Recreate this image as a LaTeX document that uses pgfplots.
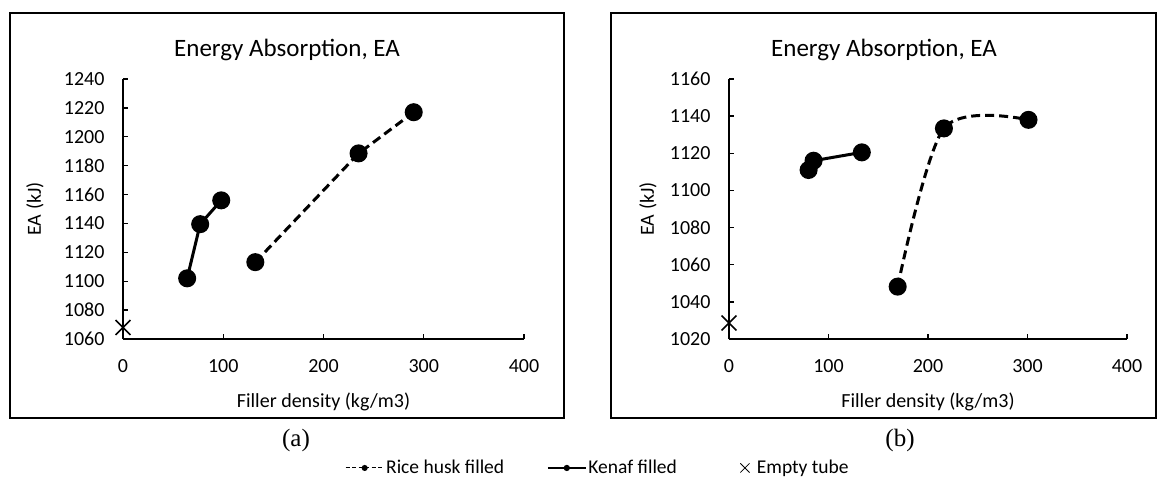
\documentclass[border=0pt]{standalone}
\usepackage{fontspec}
\setmainfont{Carlito}
\newfontfamily\capfont{Liberation Serif}
\usepackage{pgfplots}
\pgfplotsset{compat=1.18}

\pgfplotsset{
  eastyle/.style={
    scale only axis, clip=false,
    axis x line=bottom, axis y line=left,
    axis line style={-, line width=1.3pt},
    major tick length=5pt, tick align=inside,
    tick style={line width=1.3pt, black},
    xmin=0, xmax=400, xtick={0,100,200,300,400},
    ytick distance=20,
    /pgf/number format/assume math mode=true,
    /pgf/number format/1000 sep={},
    tick label style={font=\fontsize{20}{24}\selectfont},
    xticklabel shift=17pt,
    yticklabel shift=15pt,
    xlabel={Filler density (kg/m3)},
    ylabel={EA (kJ)},
    every axis x label/.style={at={([yshift=-63pt]axis description cs:0.5,0)}, anchor=center, font=\fontsize{20}{24}\selectfont},
  },
  kenaf/.style={black, line width=3pt, mark=*, mark size=7.5pt, mark options={solid}},
  rice/.style={black, line width=3pt, dash pattern=on 9pt off 5pt, mark=*, mark size=7.5pt, mark options={solid}},
  empty/.style={black, only marks, mark=x, mark size=10.5pt, line width=1.5pt},
  xlegendimg/.style={legend image code/.code={\draw[##1] plot coordinates {(10pt,0pt)}; \path[draw=none] (0pt,0pt) (20pt,0pt);}},
}

\begin{document}
\begin{tikzpicture}
\useasboundingbox (0,0) rectangle (1157pt,480pt);

% (a)
\begin{axis}[eastyle,
  at={(123pt,141pt)}, anchor=south west, width=401pt, height=260pt,
  ymin=1060, ymax=1240,
  every axis y label/.style={at={([xshift=-88pt]axis description cs:0,0.5)}, rotate=90, anchor=center, font=\fontsize{20}{24}\selectfont},
]
  \addplot[rice] coordinates {(132,1113.2) (235,1188.5) (290,1217)};
  \addplot[kenaf] coordinates {(64,1102) (77,1139.5) (98,1156)};
  \addplot[empty] coordinates {(0,1068)};
\end{axis}

% (b)
\begin{axis}[eastyle,
  at={(729pt,141pt)}, anchor=south west, width=398pt, height=260pt,
  ymin=1020, ymax=1160,
  every axis y label/.style={at={([xshift=-81pt]axis description cs:0,0.5)}, rotate=90, anchor=center, font=\fontsize{20}{24}\selectfont},
  legend image code/.code={\draw[mark repeat=2,mark phase=2,#1] plot coordinates {(0pt,0pt) (19pt,0pt) (38pt,0pt)};},
  legend style={at={(-0.9724,-0.496)}, anchor=west, draw=none, fill=none,
    legend columns=3, font=\fontsize{19.5}{22}\selectfont,
    /tikz/column 2/.style={column sep=41pt},
    /tikz/column 4/.style={column sep=56pt}},
]
  \addplot[rice, smooth, forget plot] coordinates {(169.5,1048.2) (216,1133.4) (301,1138)};
  \addplot[kenaf, forget plot] coordinates {(80,1111) (85,1116) (133.5,1120.5)};
  \addplot[empty, forget plot] coordinates {(0,1028.6)};
  \addlegendimage{black, line width=1pt, dash pattern=on 4pt off 2.5pt, mark=*, mark size=2.5pt, mark options={solid}}
  \addlegendentry{Rice husk filled}
  \addlegendimage{black, line width=1.2pt, mark=*, mark size=2.5pt}
  \addlegendentry{Kenaf filled}
  \addlegendimage{black, only marks, mark=x, mark size=6.5pt, line width=0.8pt, xlegendimg}
  \addlegendentry{Empty tube}
\end{axis}

\draw[line width=1.3pt] (10pt,62pt) rectangle (564pt,467pt);
\draw[line width=1.3pt] (611pt,62pt) rectangle (1156pt,467pt);
\node[font=\fontsize{25}{29}\selectfont] at (287pt,430pt) {Energy Absorption, EA};
\node[font=\fontsize{25}{29}\selectfont] at (884pt,430pt) {Energy Absorption, EA};
\node[font=\capfont\fontsize{25}{29}\selectfont] at (296pt,40pt) {(a)};
\node[font=\capfont\fontsize{25}{29}\selectfont] at (900pt,40pt) {(b)};
\end{tikzpicture}
\end{document}
